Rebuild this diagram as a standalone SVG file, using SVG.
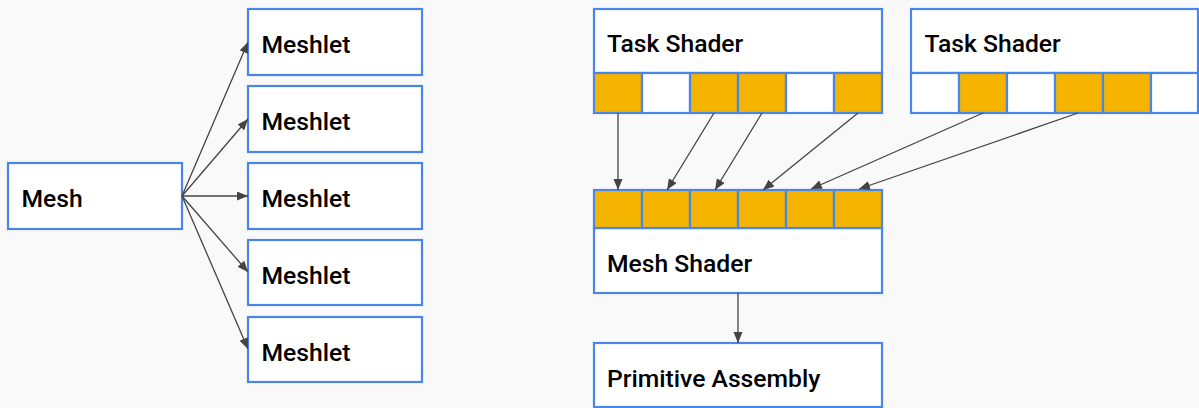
<svg xmlns="http://www.w3.org/2000/svg" width="1199" height="408" viewBox="0 0 1199 408">
<style>
.box{fill:#ffffff;stroke:#4a86e8;stroke-width:2.2}
.on{fill:#f4b400;stroke:#4a86e8;stroke-width:2.2}
.off{fill:#ffffff;stroke:#4a86e8;stroke-width:2.2}
.lbl{font-family:Roboto,"Liberation Sans",sans-serif;font-size:24.7px;font-weight:500;fill:#000000}
.edge{stroke:#444444;stroke-width:1.3;fill:none;marker-end:url(#ah)}
</style>
<defs>
<marker id="ah" markerUnits="userSpaceOnUse" markerWidth="12" markerHeight="10" refX="11" refY="4.5" orient="auto">
<path d="M0,0 L11,4.5 L0,9 z" fill="#444444"/>
</marker>
</defs>
<rect width="1199" height="408" fill="#f9f9f9"/>
<g id="mesh"><rect class="box" x="8" y="163" width="174" height="66"/><text class="lbl" x="21.5" y="206.7">Mesh</text></g>
<g id="meshlet1"><rect class="box" x="248" y="9" width="174" height="66"/><text class="lbl" x="261.5" y="53">Meshlet</text></g>
<g id="meshlet2"><rect class="box" x="248" y="86" width="174" height="66"/><text class="lbl" x="261.5" y="130">Meshlet</text></g>
<g id="meshlet3"><rect class="box" x="248" y="163" width="174" height="66"/><text class="lbl" x="261.5" y="207">Meshlet</text></g>
<g id="meshlet4"><rect class="box" x="248" y="240" width="174" height="65"/><text class="lbl" x="261.5" y="283.5">Meshlet</text></g>
<g id="meshlet5"><rect class="box" x="248" y="317" width="174" height="65"/><text class="lbl" x="261.5" y="360.5">Meshlet</text></g>
<g id="task1">
<rect class="box" x="594" y="9" width="288" height="64"/>
<text class="lbl" x="607" y="52">Task Shader</text>
<rect class="on" x="594" y="73" width="48" height="40"/>
<rect class="off" x="642" y="73" width="48" height="40"/>
<rect class="on" x="690" y="73" width="48" height="40"/>
<rect class="on" x="738" y="73" width="48" height="40"/>
<rect class="off" x="786" y="73" width="48" height="40"/>
<rect class="on" x="834" y="73" width="48" height="40"/>
</g>
<g id="task2">
<rect class="box" x="911" y="9" width="287" height="64"/>
<text class="lbl" x="924.5" y="52">Task Shader</text>
<rect class="off" x="911" y="73" width="48" height="40"/>
<rect class="on" x="959" y="73" width="48" height="40"/>
<rect class="off" x="1007" y="73" width="48" height="40"/>
<rect class="on" x="1055" y="73" width="48" height="40"/>
<rect class="on" x="1103" y="73" width="48" height="40"/>
<rect class="off" x="1151" y="73" width="47" height="40"/>
</g>
<g id="meshshader">
<rect class="box" x="594" y="228" width="288" height="65"/>
<rect class="on" x="594" y="190" width="48" height="38"/>
<rect class="on" x="642" y="190" width="48" height="38"/>
<rect class="on" x="690" y="190" width="48" height="38"/>
<rect class="on" x="738" y="190" width="48" height="38"/>
<rect class="on" x="786" y="190" width="48" height="38"/>
<rect class="on" x="834" y="190" width="48" height="38"/>
<text class="lbl" x="607" y="271.7">Mesh Shader</text>
</g>
<g id="primitive">
<rect class="box" x="594" y="343" width="288" height="64"/>
<text class="lbl" x="607" y="386.7">Primitive Assembly</text>
</g>
<g id="connectors">
<line class="edge" x1="182" y1="196" x2="248" y2="42"/>
<line class="edge" x1="182" y1="196" x2="248" y2="119"/>
<line class="edge" x1="182" y1="196" x2="248" y2="196"/>
<line class="edge" x1="182" y1="196" x2="248" y2="272"/>
<line class="edge" x1="182" y1="196" x2="248" y2="349"/>
<line class="edge" x1="618" y1="113" x2="618" y2="190"/>
<line class="edge" x1="714" y1="113" x2="667" y2="190"/>
<line class="edge" x1="762" y1="113" x2="715" y2="190"/>
<line class="edge" x1="858" y1="113" x2="763" y2="190"/>
<line class="edge" x1="983" y1="113" x2="811" y2="189"/>
<line class="edge" x1="1078" y1="113" x2="859" y2="189"/>
<line class="edge" x1="738" y1="293" x2="738" y2="343"/>
</g>
</svg>
